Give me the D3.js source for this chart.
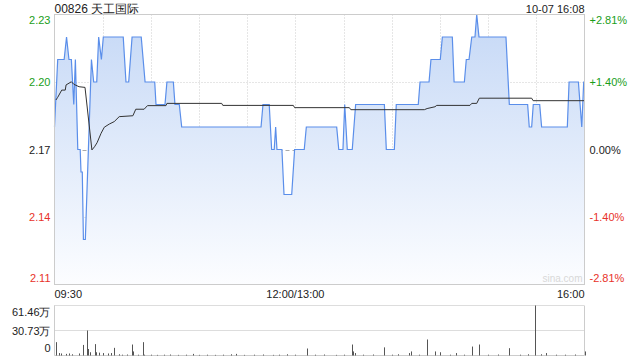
<!DOCTYPE html>
<html>
<head>
<meta charset="utf-8">
<script src="https://cdnjs.cloudflare.com/ajax/libs/d3/7.8.5/d3.min.js"></script>
<style>
	body { margin: 0; background: #fff; }
	text { font-family: "Liberation Sans", Arial, sans-serif; }
</style>
</head>
<body>
<div id="my_dataviz"></div>
<script>

// header
var stockTitle = '00826 天工国际';
var stampText = '10-07 16:08';

// minutes after 09:30 (lunch removed, 0..330) and price
var priceMinutes = [0,2,6,7.5,9,10.5,12,13,14.5,16,16.5,17.3,18,19.2,23,24.4,26.3,27.5,29.2,30.4,42.8,44.5,46.2,48.3,54,56.4,62.4,63.2,68.8,70,74,75,77.7,79.2,128.6,129.8,133.7,135.2,136.8,137.7,138.5,141.6,142.9,147.7,149.5,155.5,156.8,175.7,177,179.6,180.7,182.3,185.4,187.5,205.4,206.6,211.6,212.8,226.5,227.6,233.2,234.4,240.2,241.5,247.7,248.8,255.2,256.4,258.1,259.8,261.8,262.9,264.3,281.1,283.2,294.6,295.6,297.1,298.1,302.1,303.3,319.3,320.4,326.2,328.3,329.5,330];
var priceValues = [2.18,2.21,2.21,2.22,2.21,2.21,2.19,2.21,2.17,2.17,2.16,2.16,2.13,2.13,2.21,2.20,2.20,2.22,2.21,2.22,2.22,2.20,2.20,2.22,2.22,2.20,2.20,2.19,2.19,2.20,2.20,2.19,2.19,2.18,2.18,2.19,2.19,2.17,2.17,2.18,2.17,2.17,2.15,2.15,2.17,2.17,2.18,2.18,2.17,2.17,2.19,2.17,2.17,2.19,2.19,2.17,2.17,2.19,2.19,2.20,2.20,2.21,2.21,2.22,2.22,2.20,2.20,2.21,2.21,2.22,2.22,2.23,2.22,2.22,2.19,2.19,2.18,2.18,2.19,2.19,2.18,2.18,2.20,2.20,2.18,2.20,2.20];

// average price line
var avgMinutes = [0.9,2,4.5,6.7,7.2,10.5,12,15.3,19,23.3,24.9,26.5,29,31,34.1,37.2,40.3,48.8,50.6,55.8,57.9,69.4,70,104.1,104.8,148.7,149.5,183.6,184.5,230.3,232,236.9,238,258.7,259.8,262.9,264.5,297.1,298,330];
var avgValues = [2.192,2.1932,2.1964,2.1964,2.1987,2.2001,2.199,2.1979,2.1976,2.1698,2.1712,2.173,2.1772,2.1799,2.1813,2.1824,2.1846,2.185,2.1879,2.1879,2.1895,2.1895,2.1905,2.1905,2.1896,2.1896,2.1886,2.1886,2.1877,2.1877,2.1882,2.189,2.1896,2.1896,2.1905,2.1905,2.1928,2.1928,2.1917,2.1917];

// volume (万) per minute
var volMinutes = [1,3,4,7,9,11,15,18,20,21,22,25,26,28,30,33,35,37,40,42,45,48,49,52,55,56,60,64,68,72,77,82,86,90,95,100,105,110,113,118,124,130,136,140,145,150,157,162,168,175,180,185,186,187,192,198,205,210,214,221,222,227,232,237,240,246,250,255,260,264,270,276,283,290,295,299,303,306,312,318,324,330];
var volValues = [16.4,3,2.5,2,2.5,1.5,2.5,13,30.7,8,4,14,4,3.5,3,2.5,3,9.4,1.5,1,1.2,13.5,5,1,16.4,1,1,0.8,1,1.2,0.8,1,2,0.8,1,0.8,1,1.5,2,0.8,1,1.2,0.8,1,1.5,1,8.6,1,1.2,0.8,1,13.5,5,3,1,1.2,10,1,1.5,3,5,1,19.7,5,4,1,3,1,11,13.5,1,1.2,9,1,1.5,61.46,1.5,3,1,1,1.2,5];

// axis labels
var priceTicks = [2.23, 2.20, 2.17, 2.14, 2.11];
var pctTicks = ['+2.81%', '+1.40%', '0.00%', '-1.40%', '-2.81%'];
var timeTicks = [0, 150, 330];
var timeLabels = ['09:30', '12:00/13:00', '16:00'];
var volTicks = [61.46, 30.73, 0];
var volLabels = ['61.46万', '30.73万', '0'];

var prevClose = 2.17;

function drawChart() {
	var width = 640, height = 360;
	var left = 54.5, right = 584.5;

	var svg = d3.select('#my_dataviz')
		.append('svg')
		.attr('width', width)
		.attr('height', height);

	var green = '#1a9e1a', red = '#e8322a', dark = '#222';
	function tickColor(v) { return v > prevClose + 1e-9 ? green : (v < prevClose - 1e-9 ? red : dark); }

	// scales
	var x = d3.scaleLinear().domain([0, 330]).range([left, right]);
	var y = d3.scaleLinear().domain([2.11, 2.23]).range([284.5, 14.5]);
	var yv = d3.scaleLinear().domain([0, 61.46]).range([355.5, 305.5]);

	// gradient for the area
	var grad = svg.append('defs').append('linearGradient')
		.attr('id', 'areaGrad')
		.attr('gradientUnits', 'userSpaceOnUse')
		.attr('x1', 0).attr('y1', y(2.23)).attr('x2', 0).attr('y2', y(2.11));
	grad.append('stop').attr('offset', '0%').attr('stop-color', '#c5d8f6');
	grad.append('stop').attr('offset', '100%').attr('stop-color', '#fcfdff');

	// header
	svg.append('text').attr('x', left).attr('y', 13)
		.attr('font-size', 12).attr('fill', '#222').text(stockTitle);
	svg.append('text').attr('x', right).attr('y', 13).attr('text-anchor', 'end')
		.attr('font-size', 11).attr('fill', '#222').text(stampText);

	// grid
	var grid = svg.append('g');
	d3.range(30, 330, 30).forEach(function(m) {
		grid.append('line')
			.attr('x1', Math.round(x(m)) + 0.5).attr('x2', Math.round(x(m)) + 0.5)
			.attr('y1', y(2.23)).attr('y2', y(2.11))
			.attr('stroke', '#ccc').attr('stroke-dasharray', '1,2');
	});
	priceTicks.slice(1, 4).forEach(function(p) {
		grid.append('line')
			.attr('x1', left).attr('x2', right)
			.attr('y1', Math.round(y(p)) + 0.5).attr('y2', Math.round(y(p)) + 0.5)
			.attr('stroke', p == prevClose ? '#aaa' : '#ccc')
			.attr('stroke-dasharray', p == prevClose ? '4,3' : '1,2');
	});

	// area + line
	var pts = priceMinutes.map(function(m, i) { return [m, priceValues[i]]; });
	svg.append('path').datum(pts)
		.attr('fill', 'url(#areaGrad)')
		.attr('d', d3.area().x(d => x(d[0])).y0(y(2.11)).y1(d => y(d[1])));
	svg.append('path').datum(pts)
		.attr('fill', 'none').attr('stroke', '#5a8eea').attr('stroke-width', 1.2)
		.attr('d', d3.line().x(d => x(d[0])).y(d => y(d[1])));

	var avg = avgMinutes.map(function(m, i) { return [m, avgValues[i]]; });
	svg.append('path').datum(avg)
		.attr('fill', 'none').attr('stroke', '#333').attr('stroke-width', 1)
		.attr('d', d3.line().x(d => x(d[0])).y(d => y(d[1])));

	// watermark
	svg.append('text').attr('x', right - 2).attr('y', 282).attr('text-anchor', 'end')
		.attr('font-size', 10).attr('fill', '#d8d8d8').text('sina.com');

	// frame
	svg.append('rect').attr('x', left).attr('y', 14.5)
		.attr('width', right - left).attr('height', 270)
		.attr('fill', 'none').attr('stroke', '#ccc');

	// left / right labels
	priceTicks.forEach(function(p, i) {
		var ty = y(p) + 4;
		if (i == 0) ty = y(p) + 9;
		if (i == priceTicks.length - 1) ty = y(p) - 3;
		svg.append('text').attr('x', left - 4).attr('y', ty).attr('text-anchor', 'end')
			.attr('font-size', 11).attr('fill', tickColor(p)).text(p.toFixed(2));
		svg.append('text').attr('x', right + 5).attr('y', ty)
			.attr('font-size', 11).attr('fill', tickColor(p)).text(pctTicks[i]);
	});

	// time labels
	timeTicks.forEach(function(t, i) {
		svg.append('text').attr('x', x(t)).attr('y', 298)
			.attr('text-anchor', i == 0 ? 'start' : (i == 2 ? 'end' : 'middle'))
			.attr('font-size', 11).attr('fill', '#222').text(timeLabels[i]);
	});

	// volume panel
	var vp = svg.append('g');
	vp.append('line').attr('x1', left).attr('x2', right).attr('y1', yv(61.46)).attr('y2', yv(61.46))
		.attr('stroke', '#bbb').attr('stroke-dasharray', '1,1');
	vp.append('line').attr('x1', left).attr('x2', right).attr('y1', yv(30.73)).attr('y2', yv(30.73))
		.attr('stroke', '#bbb').attr('stroke-dasharray', '1,1');
	vp.append('path')
		.attr('d', 'M' + left + ',' + yv(61.46) + 'V' + yv(0) + 'H' + right + 'V' + yv(61.46))
		.attr('fill', 'none').attr('stroke', '#ccc');

	vp.selectAll('rect.vol')
		.data(volMinutes.map(function(m, i) { return [m, volValues[i]]; }))
		.join('rect')
		.attr('class', 'vol')
		.attr('x', d => Math.round(x(d[0])))
		.attr('width', 1)
		.attr('y', d => yv(d[1]))
		.attr('height', d => yv(0) - yv(d[1]))
		.attr('fill', '#555');

	volTicks.forEach(function(v, i) {
		var ty = yv(v) + 4;
		if (i == 0) ty = yv(v) + 10;
		if (i == 2) ty = yv(v) - 4;
		vp.append('text').attr('x', left - 4).attr('y', ty).attr('text-anchor', 'end')
			.attr('font-size', 11).attr('fill', '#222').text(volLabels[i]);
	});
}

drawChart();

</script>
</body>
</html>
